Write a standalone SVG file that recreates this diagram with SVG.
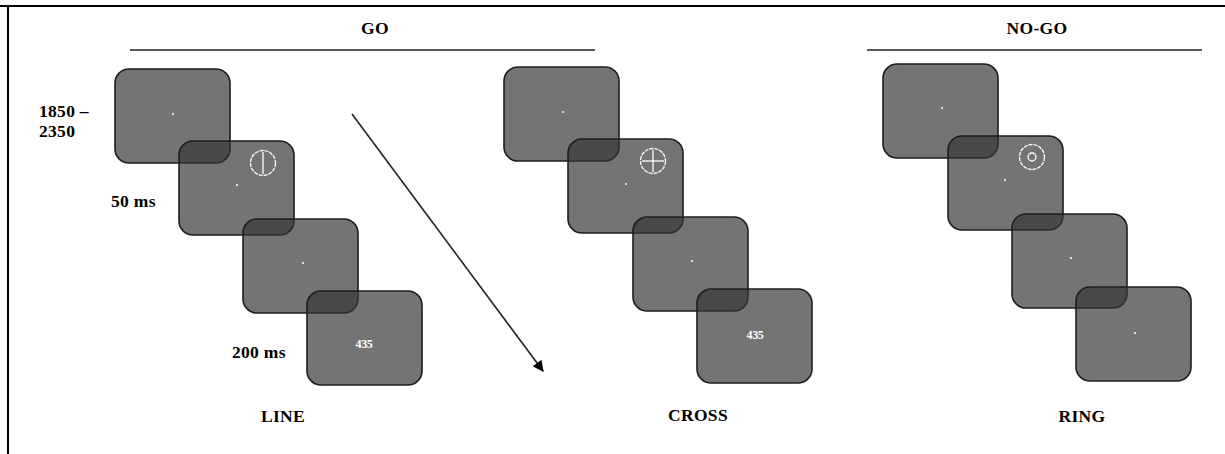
<svg xmlns="http://www.w3.org/2000/svg" width="1225" height="454" viewBox="0 0 1225 454">
<style>
.scr{fill:#353535;fill-opacity:0.69;stroke:#1e1e1e;stroke-width:1.6}
.dot{fill:#fff}
.sym{fill:none;stroke:#fff;stroke-width:1.3;stroke-dasharray:4 1}
.symL{fill:none;stroke:#fff;stroke-width:1.3}
.t{font-family:"Liberation Serif",serif;font-weight:bold;font-size:17.5px;fill:#000;letter-spacing:0.3px}
.num{font-family:"Liberation Serif",serif;font-weight:bold;font-size:12px;fill:#fff;letter-spacing:-0.3px}
.rule{stroke:#222;stroke-width:1.6}
</style>
<defs>
<marker id="ah" viewBox="0 0 10 10" refX="9" refY="5" markerWidth="13" markerHeight="11" markerUnits="userSpaceOnUse" orient="auto">
<path d="M0,0 L10,5 L0,10 z" fill="#000"/>
</marker>
</defs>
<rect width="1225" height="454" fill="#fff"/>
<g id="frame">
<line x1="0" y1="6" x2="1225" y2="6" stroke="#000" stroke-width="2"/>
<line x1="8" y1="6" x2="8" y2="454" stroke="#000" stroke-width="2"/>
</g>
<g id="headers">
<text class="t" x="375" y="34" text-anchor="middle">GO</text>
<line class="rule" x1="130" y1="50" x2="595" y2="50"/>
<text class="t" x="1037" y="34" text-anchor="middle">NO-GO</text>
<line class="rule" x1="867" y1="50" x2="1202" y2="50"/>
</g>
<g id="timing">
<text class="t" x="39" y="117">1850 –</text>
<text class="t" x="39" y="137">2350</text>
<text class="t" x="111" y="207">50 ms</text>
<text class="t" x="232" y="358">200 ms</text>
</g>
<g id="line-sequence">
<rect class="scr" x="115" y="69" width="115" height="94" rx="14"/>
<rect class="scr" x="179" y="141" width="115" height="94" rx="14"/>
<rect class="scr" x="243" y="219" width="115" height="94" rx="14"/>
<rect class="scr" x="307" y="291" width="115" height="94" rx="14"/>
<circle class="dot" cx="173" cy="114" r="1"/>
<circle class="dot" cx="237" cy="185" r="1"/>
<circle class="dot" cx="303" cy="263" r="1"/>
<circle class="sym" cx="263" cy="163" r="12.5"/>
<line class="symL" x1="263" y1="152" x2="263" y2="174"/>
<text class="num" x="364" y="348" text-anchor="middle">435</text>
<text class="t" x="283" y="422" text-anchor="middle">LINE</text>
</g>
<g id="cross-sequence">
<rect class="scr" x="504" y="67" width="115" height="94" rx="14"/>
<rect class="scr" x="568" y="139" width="115" height="94" rx="14"/>
<rect class="scr" x="633" y="217" width="115" height="94" rx="14"/>
<rect class="scr" x="697" y="289" width="115" height="94" rx="14"/>
<circle class="dot" cx="563" cy="112" r="1"/>
<circle class="dot" cx="626" cy="184" r="1"/>
<circle class="dot" cx="692" cy="261" r="1"/>
<circle class="sym" cx="653" cy="161" r="12.5"/>
<line class="symL" x1="653" y1="150" x2="653" y2="172"/>
<line class="symL" x1="642" y1="161" x2="664" y2="161"/>
<text class="num" x="755" y="339" text-anchor="middle">435</text>
<text class="t" x="698" y="421" text-anchor="middle">CROSS</text>
</g>
<g id="ring-sequence">
<rect class="scr" x="883" y="64" width="115" height="94" rx="14"/>
<rect class="scr" x="948" y="136" width="115" height="94" rx="14"/>
<rect class="scr" x="1012" y="214" width="115" height="94" rx="14"/>
<rect class="scr" x="1076" y="287" width="115" height="94" rx="14"/>
<circle class="dot" cx="942" cy="108" r="1"/>
<circle class="dot" cx="1005" cy="180" r="1"/>
<circle class="dot" cx="1071" cy="258" r="1"/>
<circle class="dot" cx="1135" cy="333" r="1"/>
<circle class="sym" cx="1032" cy="157" r="12.5"/>
<circle class="symL" cx="1032" cy="157" r="4"/>
<text class="t" x="1082" y="422" text-anchor="middle">RING</text>
</g>
<g id="connectors">
<line x1="352" y1="114" x2="543" y2="371" stroke="#222" stroke-width="1.6" marker-end="url(#ah)"/>
</g>
</svg>
